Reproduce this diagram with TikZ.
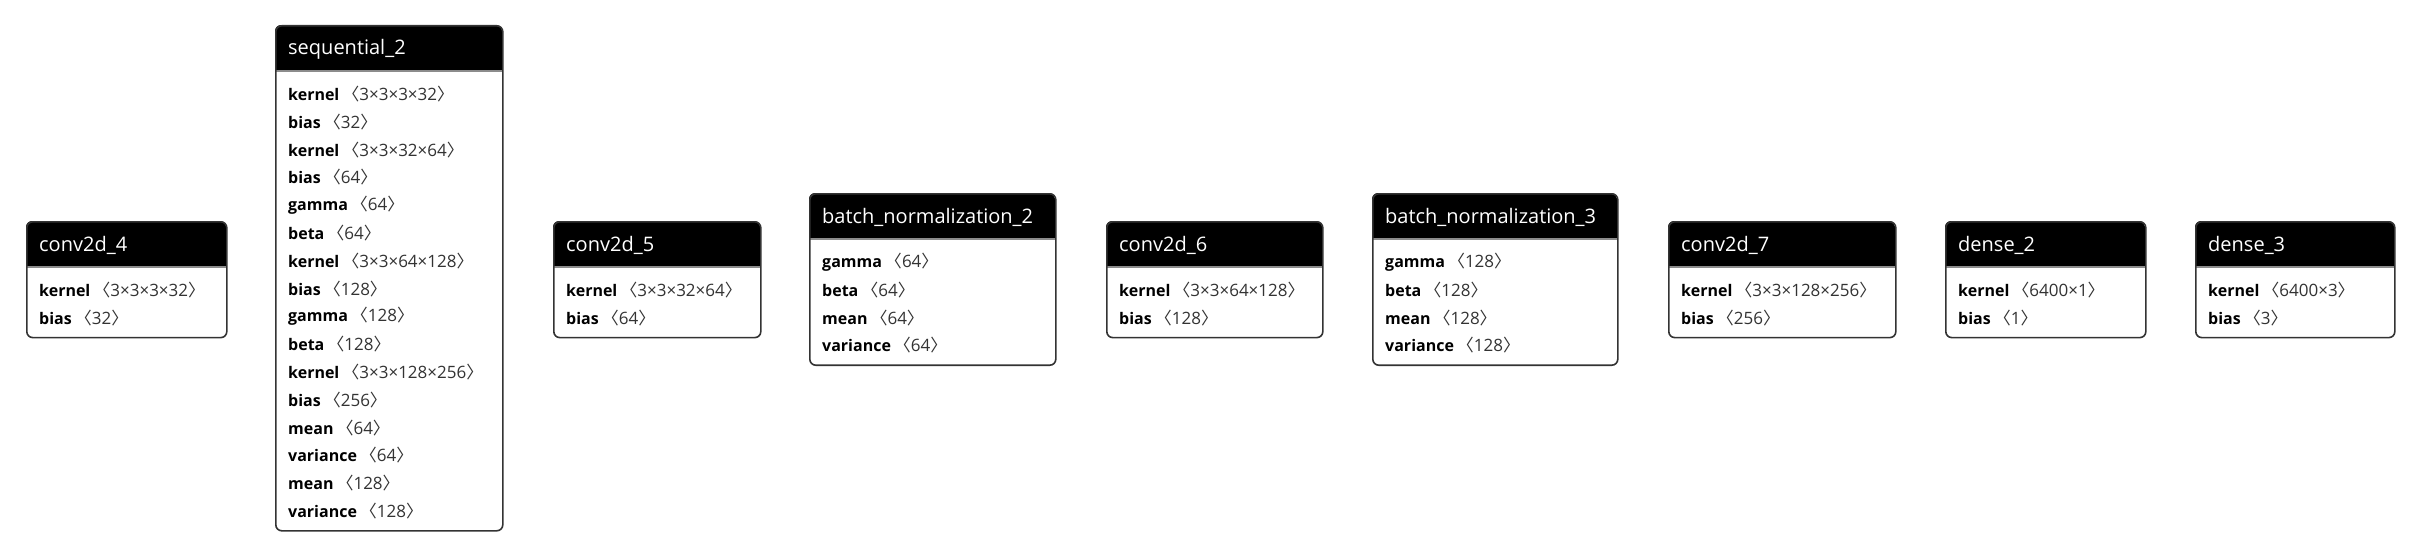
\documentclass[tikz,border=0pt]{standalone}
\usepackage{fontspec}
\setmainfont{Open Sans}
\newfontfamily\cjk{Noto Sans CJK SC}
\tikzset{
  boxframe/.style={draw=black!80, line width=1.6pt, rounded corners=6pt, inner sep=0pt},
  titletext/.style={text=white, font=\fontsize{20}{24}\selectfont, inner sep=0pt, anchor=west},
  rowtext/.style={text=black, font=\fontsize{16}{19}\selectfont, inner sep=0pt, anchor=west},
}
\newcommand\valtext[1]{{\fontsize{17}{19}\selectfont\color{black!80}{\cjk 〈}#1{\cjk 〉}}}
% #1 name, #2 x, #3 top (image y), #4 width, #5 rows count, #6 title, #7 rows
\newcommand\layerbox[7]{%
  \pgfmathsetmacro\bh{46+23+19+27.8*(#5-1)}%
  \coordinate (#1nw) at (#2pt,{(558-#3)*1pt});
  \begin{scope}
    \clip[rounded corners=6pt] (#1nw) rectangle ++(#4pt,-\bh pt);
    \fill[black] (#1nw) rectangle ++(#4pt,-46pt);
    \draw[black!45, line width=1.4pt] ([yshift=-46pt]#1nw) -- ++(#4pt,0);
  \end{scope}
  \node[boxframe, anchor=north west, minimum width=#4pt, minimum height=\bh pt] (#1) at (#1nw) {};
  \node[titletext] (#1-title) at ([xshift=13pt,yshift=-24pt]#1.north west) {#6};
  \foreach \k/\v [count=\i from 0] in {#7} {
    \node[rowtext] (#1-row\i) at ([xshift=13pt,yshift={-(69+27.8*\i)*1pt}]#1.north west) {\textbf{\k}\hspace{3pt}\valtext{\v}};
  }
}
\begin{document}
\begin{tikzpicture}[x=1pt,y=1pt]
\useasboundingbox[fill=white] (0,0) rectangle (2422,558);
\layerbox{c4}{26}{221}{200}{2}{conv2d\_4}{kernel/3×3×3×32, bias/32}
\layerbox{seq}{275}{25}{227}{16}{sequential\_2}{kernel/3×3×3×32, bias/32, kernel/3×3×32×64, bias/64, gamma/64, beta/64, kernel/3×3×64×128, bias/128, gamma/128, beta/128, kernel/3×3×128×256, bias/256, mean/64, variance/64, mean/128, variance/128}
\layerbox{c5}{553}{221}{207}{2}{conv2d\_5}{kernel/3×3×32×64, bias/64}
\layerbox{bn2}{809}{193}{246}{4}{batch\_normalization\_2}{gamma/64, beta/64, mean/64, variance/64}
\layerbox{c6}{1106}{221}{216}{2}{conv2d\_6}{kernel/3×3×64×128, bias/128}
\layerbox{bn3}{1372}{193}{245}{4}{batch\_normalization\_3}{gamma/128, beta/128, mean/128, variance/128}
\layerbox{c7}{1668}{221}{227}{2}{conv2d\_7}{kernel/3×3×128×256, bias/256}
\layerbox{d2}{1945}{221}{200}{2}{dense\_2}{kernel/6400×1, bias/1}
\layerbox{d3}{2195}{221}{199}{2}{dense\_3}{kernel/6400×3, bias/3}
\end{tikzpicture}
\end{document}
